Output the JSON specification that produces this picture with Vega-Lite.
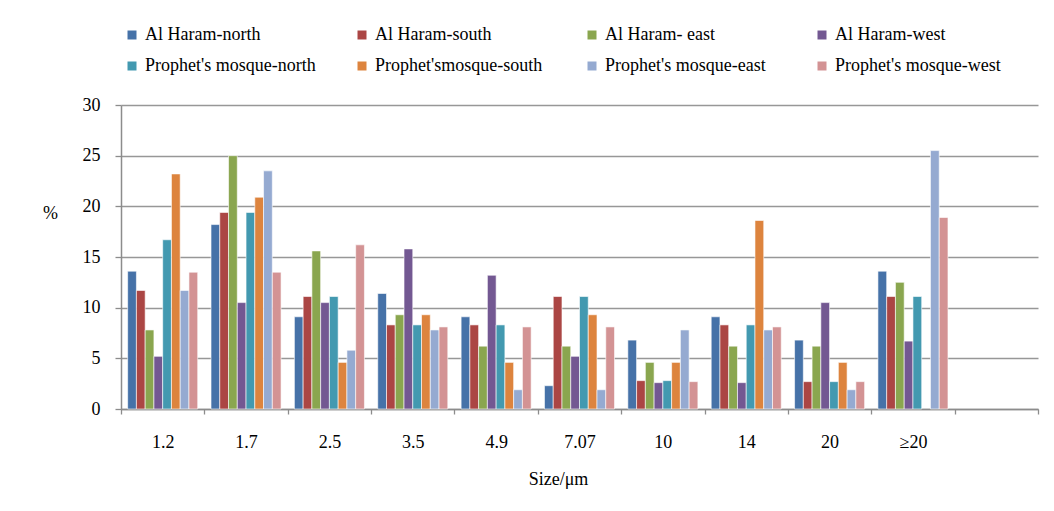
{
  "$schema": "https://vega.github.io/schema/vega-lite/v6.json",
  "autosize": "none",
  "width": 917,
  "height": 304,
  "padding": {"left": 121, "top": 105, "right": 16, "bottom": 102},
  "background": "white",
  "data": {
    "values": [
      {"size": "1.2", "site": "Al Haram-north", "pct": 13.6},
      {"size": "1.2", "site": "Al Haram-south", "pct": 11.7},
      {"size": "1.2", "site": "Al Haram- east", "pct": 7.8},
      {"size": "1.2", "site": "Al Haram-west", "pct": 5.2},
      {"size": "1.2", "site": "Prophet's mosque-north", "pct": 16.7},
      {"size": "1.2", "site": "Prophet'smosque-south", "pct": 23.2},
      {"size": "1.2", "site": "Prophet's mosque-east", "pct": 11.7},
      {"size": "1.2", "site": "Prophet's mosque-west", "pct": 13.5},
      {"size": "1.7", "site": "Al Haram-north", "pct": 18.2},
      {"size": "1.7", "site": "Al Haram-south", "pct": 19.4},
      {"size": "1.7", "site": "Al Haram- east", "pct": 25.0},
      {"size": "1.7", "site": "Al Haram-west", "pct": 10.5},
      {"size": "1.7", "site": "Prophet's mosque-north", "pct": 19.4},
      {"size": "1.7", "site": "Prophet'smosque-south", "pct": 20.9},
      {"size": "1.7", "site": "Prophet's mosque-east", "pct": 23.5},
      {"size": "1.7", "site": "Prophet's mosque-west", "pct": 13.5},
      {"size": "2.5", "site": "Al Haram-north", "pct": 9.1},
      {"size": "2.5", "site": "Al Haram-south", "pct": 11.1},
      {"size": "2.5", "site": "Al Haram- east", "pct": 15.6},
      {"size": "2.5", "site": "Al Haram-west", "pct": 10.5},
      {"size": "2.5", "site": "Prophet's mosque-north", "pct": 11.1},
      {"size": "2.5", "site": "Prophet'smosque-south", "pct": 4.6},
      {"size": "2.5", "site": "Prophet's mosque-east", "pct": 5.8},
      {"size": "2.5", "site": "Prophet's mosque-west", "pct": 16.2},
      {"size": "3.5", "site": "Al Haram-north", "pct": 11.4},
      {"size": "3.5", "site": "Al Haram-south", "pct": 8.3},
      {"size": "3.5", "site": "Al Haram- east", "pct": 9.3},
      {"size": "3.5", "site": "Al Haram-west", "pct": 15.8},
      {"size": "3.5", "site": "Prophet's mosque-north", "pct": 8.3},
      {"size": "3.5", "site": "Prophet'smosque-south", "pct": 9.3},
      {"size": "3.5", "site": "Prophet's mosque-east", "pct": 7.8},
      {"size": "3.5", "site": "Prophet's mosque-west", "pct": 8.1},
      {"size": "4.9", "site": "Al Haram-north", "pct": 9.1},
      {"size": "4.9", "site": "Al Haram-south", "pct": 8.3},
      {"size": "4.9", "site": "Al Haram- east", "pct": 6.2},
      {"size": "4.9", "site": "Al Haram-west", "pct": 13.2},
      {"size": "4.9", "site": "Prophet's mosque-north", "pct": 8.3},
      {"size": "4.9", "site": "Prophet'smosque-south", "pct": 4.6},
      {"size": "4.9", "site": "Prophet's mosque-east", "pct": 1.9},
      {"size": "4.9", "site": "Prophet's mosque-west", "pct": 8.1},
      {"size": "7.07", "site": "Al Haram-north", "pct": 2.3},
      {"size": "7.07", "site": "Al Haram-south", "pct": 11.1},
      {"size": "7.07", "site": "Al Haram- east", "pct": 6.2},
      {"size": "7.07", "site": "Al Haram-west", "pct": 5.2},
      {"size": "7.07", "site": "Prophet's mosque-north", "pct": 11.1},
      {"size": "7.07", "site": "Prophet'smosque-south", "pct": 9.3},
      {"size": "7.07", "site": "Prophet's mosque-east", "pct": 1.9},
      {"size": "7.07", "site": "Prophet's mosque-west", "pct": 8.1},
      {"size": "10", "site": "Al Haram-north", "pct": 6.8},
      {"size": "10", "site": "Al Haram-south", "pct": 2.8},
      {"size": "10", "site": "Al Haram- east", "pct": 4.6},
      {"size": "10", "site": "Al Haram-west", "pct": 2.6},
      {"size": "10", "site": "Prophet's mosque-north", "pct": 2.8},
      {"size": "10", "site": "Prophet'smosque-south", "pct": 4.6},
      {"size": "10", "site": "Prophet's mosque-east", "pct": 7.8},
      {"size": "10", "site": "Prophet's mosque-west", "pct": 2.7},
      {"size": "14", "site": "Al Haram-north", "pct": 9.1},
      {"size": "14", "site": "Al Haram-south", "pct": 8.3},
      {"size": "14", "site": "Al Haram- east", "pct": 6.2},
      {"size": "14", "site": "Al Haram-west", "pct": 2.6},
      {"size": "14", "site": "Prophet's mosque-north", "pct": 8.3},
      {"size": "14", "site": "Prophet'smosque-south", "pct": 18.6},
      {"size": "14", "site": "Prophet's mosque-east", "pct": 7.8},
      {"size": "14", "site": "Prophet's mosque-west", "pct": 8.1},
      {"size": "20", "site": "Al Haram-north", "pct": 6.8},
      {"size": "20", "site": "Al Haram-south", "pct": 2.7},
      {"size": "20", "site": "Al Haram- east", "pct": 6.2},
      {"size": "20", "site": "Al Haram-west", "pct": 10.5},
      {"size": "20", "site": "Prophet's mosque-north", "pct": 2.7},
      {"size": "20", "site": "Prophet'smosque-south", "pct": 4.6},
      {"size": "20", "site": "Prophet's mosque-east", "pct": 1.9},
      {"size": "20", "site": "Prophet's mosque-west", "pct": 2.7},
      {"size": "≥20", "site": "Al Haram-north", "pct": 13.6},
      {"size": "≥20", "site": "Al Haram-south", "pct": 11.1},
      {"size": "≥20", "site": "Al Haram- east", "pct": 12.5},
      {"size": "≥20", "site": "Al Haram-west", "pct": 6.7},
      {"size": "≥20", "site": "Prophet's mosque-north", "pct": 11.1},
      {"size": "≥20", "site": "Prophet's mosque-east", "pct": 25.5},
      {"size": "≥20", "site": "Prophet's mosque-west", "pct": 18.9}
    ]
  },
  "mark": {"type": "bar", "stroke": "white", "strokeWidth": 0.6},
  "encoding": {
    "x": {
      "field": "size",
      "type": "nominal",
      "sort": null,
      "scale": {
        "domain": ["1.2", "1.7", "2.5", "3.5", "4.9", "7.07", "10", "14", "20", "≥20", ""],
        "paddingInner": 0,
        "paddingOuter": 0
      },
      "axis": {
        "title": "Size/μm",
        "titleX": 437,
        "titleY": 70,
        "titleAlign": "center",
        "titleBaseline": "middle",
        "titleFont": "Liberation Serif",
        "titleFontSize": 18,
        "titleFontWeight": "normal",
        "titleColor": "#000000",
        "labelFont": "Liberation Serif",
        "labelFontSize": 18,
        "labelColor": "#000000",
        "labelAngle": 0,
        "labelPadding": 19,
        "tickBand": "extent",
        "tickSize": 5,
        "tickColor": "#8c8c8c",
        "tickWidth": 1.3,
        "domainColor": "#8c8c8c",
        "domainWidth": 1.5,
        "grid": false
      }
    },
    "xOffset": {
      "field": "site",
      "type": "nominal",
      "sort": null,
      "scale": {"paddingInner": 0, "paddingOuter": 0.76}
    },
    "y": {
      "field": "pct",
      "type": "quantitative",
      "scale": {"domain": [0, 30], "nice": false},
      "axis": {
        "title": "%",
        "titleAngle": 0,
        "titleX": -71,
        "titleY": 108,
        "titleAlign": "center",
        "titleBaseline": "middle",
        "titleFont": "Liberation Serif",
        "titleFontSize": 18,
        "titleFontWeight": "normal",
        "titleColor": "#000000",
        "labelFont": "Liberation Serif",
        "labelFontSize": 18,
        "labelColor": "#000000",
        "values": [0, 5, 10, 15, 20, 25, 30],
        "tickSize": 6,
        "tickColor": "#8c8c8c",
        "tickWidth": 1.3,
        "labelPadding": 15,
        "domainColor": "#8c8c8c",
        "domainWidth": 1.5,
        "grid": true,
        "gridColor": "#979797",
        "gridWidth": 1.4
      }
    },
    "color": {
      "field": "site",
      "type": "nominal",
      "sort": null,
      "scale": {
        "domain": ["Al Haram-north", "Al Haram-south", "Al Haram- east", "Al Haram-west", "Prophet's mosque-north", "Prophet'smosque-south", "Prophet's mosque-east", "Prophet's mosque-west"],
        "range": ["#4672A8", "#AB4644", "#8AA64F", "#735892", "#4399B0", "#DD843E", "#95AAD1", "#D39394"]
      },
      "legend": {
        "title": null,
        "orient": "none",
        "legendX": 2,
        "legendY": -79,
        "direction": "horizontal",
        "columns": 4,
        "gridAlign": "all",
        "columnPadding": 37,
        "rowPadding": 13,
        "padding": 0,
        "symbolType": "square",
        "symbolSize": 81,
        "symbolStrokeWidth": 0,
        "labelOffset": 4,
        "labelFont": "Liberation Serif",
        "labelFontSize": 18,
        "labelColor": "#000000",
        "labelLimit": 300
      }
    }
  },
  "config": {
    "font": "Liberation Serif",
    "view": {"stroke": null}
  }
}
